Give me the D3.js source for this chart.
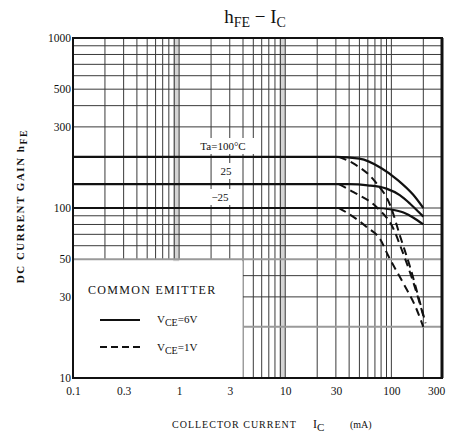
<!DOCTYPE html>
<html>
<head>
<meta charset="utf-8">
<script src="https://cdn.jsdelivr.net/npm/d3@7"></script>
<style>
  body { margin: 0; background: #fff; }
  text { font-family: "Liberation Serif", "DejaVu Serif", serif; fill: #111; }
</style>
</head>
<body>
<svg width="453" height="437"></svg>
<script>
// Axis ticks
var xTicks = [0.1, 0.3, 1, 3, 10, 30, 100, 300];
var yTicks = [10, 30, 50, 100, 300, 500, 1000];

// VCE = 6V (solid), Ic in mA / hFE
var ic6_100 = [0.1, 30, 50, 80, 115, 160, 200];
var hfe6_100 = [200, 200, 195, 172, 146, 120, 100];
var ic6_25 = [0.1, 40, 60, 90, 120, 150, 180, 200];
var hfe6_25 = [138, 138, 136, 130, 119, 106, 95, 89];
var ic6_m25 = [0.1, 70, 100, 130, 160, 200];
var hfe6_m25 = [100, 100, 98, 94, 88, 80];

// VCE = 1V (dashed)
var ic1_100 = [32, 43, 71, 98, 122, 150, 180, 210];
var hfe1_100 = [200, 184, 142, 103, 67, 45, 30, 21];
var ic1_25 = [32, 44, 74, 104, 125, 160, 205];
var hfe1_25 = [138, 124, 100, 76, 57, 37, 22];
var ic1_m25 = [32, 39, 59, 79, 94, 130, 170, 200];
var hfe1_m25 = [100, 93, 77, 65, 52, 36, 26, 20];

var svg = d3.select("svg");
var pLeft = 73, pRight = 442, pTop = 38, pBottom = 378;

var x = d3.scaleLog().domain([0.1, 300]).range([pLeft, pRight]);
var y = d3.scaleLog().domain([10, 1000]).range([pBottom, pTop]);

function pairs(xs, ys) { return xs.map(function (d, i) { return [d, ys[i]]; }); }

var grid = svg.append("g");

// light scan bands near decade lines
[[0.9, 1], [9, 10]].forEach(function (b) {
    grid.append("rect")
        .attr("x", x(b[0]) - 1).attr("y", pTop)
        .attr("width", x(b[1]) - x(b[0]) + 1).attr("height", pBottom - pTop)
        .attr("fill", "#d4d4d4");
});

// vertical grid
x.ticks().filter(function (d) { return d > 0.1 && d < 300; }).forEach(function (d) {
    var low = d < 4 ? y(50) : pBottom;
    grid.append("line")
        .attr("x1", x(d)).attr("x2", x(d))
        .attr("y1", pTop).attr("y2", low)
        .attr("stroke", "#3a3a3a").attr("stroke-width", 1);
});

// horizontal grid
y.ticks().filter(function (d) { return d > 10 && d < 1000; }).forEach(function (d) {
    var start = d < 50 ? x(4) : pLeft;
    var gray = (d === 20 || d === 50);
    grid.append("line")
        .attr("x1", start).attr("x2", pRight)
        .attr("y1", y(d)).attr("y2", y(d))
        .attr("stroke", gray ? "#9a9a9a" : "#3a3a3a")
        .attr("stroke-width", gray ? 2 : 1);
});

// curves
var line = d3.line()
    .x(function (d) { return x(d[0]); })
    .y(function (d) { return y(d[1]); })
    .curve(d3.curveMonotoneX);

var solid = [pairs(ic6_100, hfe6_100), pairs(ic6_25, hfe6_25), pairs(ic6_m25, hfe6_m25)];
var dashed = [pairs(ic1_100, hfe1_100), pairs(ic1_25, hfe1_25), pairs(ic1_m25, hfe1_m25)];

svg.selectAll(".solid").data(solid).enter().append("path")
    .attr("class", "solid")
    .attr("d", line)
    .attr("fill", "none").attr("stroke", "#111").attr("stroke-width", 2.2);

svg.selectAll(".dashed").data(dashed).enter().append("path")
    .attr("class", "dashed")
    .attr("d", line)
    .attr("fill", "none").attr("stroke", "#111").attr("stroke-width", 2)
    .attr("stroke-dasharray", "8,5");

// curve labels with white backing
function label(txt, cx, cy, w) {
    svg.append("rect")
        .attr("x", cx - w / 2).attr("y", cy - 8)
        .attr("width", w).attr("height", 16)
        .attr("fill", "#fff");
    svg.append("text")
        .attr("x", cx).attr("y", cy + 4)
        .attr("text-anchor", "middle")
        .attr("font-size", 11)
        .text(txt);
}
label("Ta=100°C", 223, 146, 74);
label("25", 226, 171, 24);
label("−25", 220, 197, 30);

// legend box
svg.append("rect")
    .attr("x", pLeft + 1).attr("y", y(50) + 2)
    .attr("width", x(4) - pLeft - 1.5).attr("height", pBottom - y(50) - 2)
    .attr("fill", "#fff");

svg.append("text")
    .attr("x", 88).attr("y", 294)
    .attr("font-size", 12).attr("letter-spacing", 1.3)
    .text("COMMON EMITTER");

svg.append("line")
    .attr("x1", 100).attr("x2", 140).attr("y1", 320).attr("y2", 320)
    .attr("stroke", "#111").attr("stroke-width", 2.2);
svg.append("line")
    .attr("x1", 100).attr("x2", 140).attr("y1", 347).attr("y2", 347)
    .attr("stroke", "#111").attr("stroke-width", 2)
    .attr("stroke-dasharray", "7,4");

[["6V", 323], ["1V", 351]].forEach(function (l) {
    var t = svg.append("text").attr("x", 157).attr("y", l[1]).attr("font-size", 11);
    t.append("tspan").text("V");
    t.append("tspan").attr("font-size", 10).attr("dy", 3).text("CE");
    t.append("tspan").attr("dy", -3).text("=" + l[0]);
});

// frame
svg.append("rect")
    .attr("x", pLeft).attr("y", pTop)
    .attr("width", pRight - pLeft).attr("height", pBottom - pTop)
    .attr("fill", "none").attr("stroke", "#111").attr("stroke-width", 2);
svg.append("line")
    .attr("x1", pRight).attr("x2", pRight).attr("y1", pTop).attr("y2", pBottom)
    .attr("stroke", "#111").attr("stroke-width", 3);

// axes
var xAxis = svg.append("g")
    .attr("transform", "translate(0," + pBottom + ")")
    .call(d3.axisBottom(x).tickValues(xTicks).tickFormat(d3.format("")).tickSize(0).tickPadding(9));
var yAxis = svg.append("g")
    .attr("transform", "translate(" + pLeft + ",0)")
    .call(d3.axisLeft(y).tickValues(yTicks).tickFormat(d3.format("")).tickSize(0).tickPadding(2));
[xAxis, yAxis].forEach(function (a) {
    a.select(".domain").remove();
    a.selectAll("text").attr("font-size", 11.5)
        .attr("font-family", "Liberation Serif, serif").attr("fill", "#111");
});
xAxis.selectAll("text").filter(function (d) { return d === 300; }).attr("dx", -6);

// title
var title = svg.append("text")
    .attr("x", 255).attr("y", 23)
    .attr("text-anchor", "middle").attr("font-size", 19);
title.append("tspan").text("h");
title.append("tspan").attr("font-size", 14).attr("dy", 4).text("FE");
title.append("tspan").attr("dy", -4).text("  −  I");
title.append("tspan").attr("font-size", 14).attr("dy", 4).text("C");

// x axis title
svg.append("text")
    .attr("x", 172).attr("y", 428)
    .attr("font-size", 10).attr("letter-spacing", 1)
    .text("COLLECTOR CURRENT");
var ic = svg.append("text").attr("x", 313).attr("y", 428).attr("font-size", 12);
ic.append("tspan").text("I");
ic.append("tspan").attr("font-size", 11).attr("dy", 3).text("C");
svg.append("text")
    .attr("x", 350).attr("y", 428)
    .attr("font-size", 10)
    .text("(mA)");

// y axis title
var yt = svg.append("text")
    .attr("transform", "translate(24,206) rotate(-90)")
    .attr("text-anchor", "middle")
    .attr("font-size", 11).attr("font-weight", "bold").attr("letter-spacing", 1.5);
yt.append("tspan").text("DC CURRENT GAIN   h");
yt.append("tspan").attr("font-size", 10).attr("dy", 3).text("FE");
</script>
</body>
</html>
